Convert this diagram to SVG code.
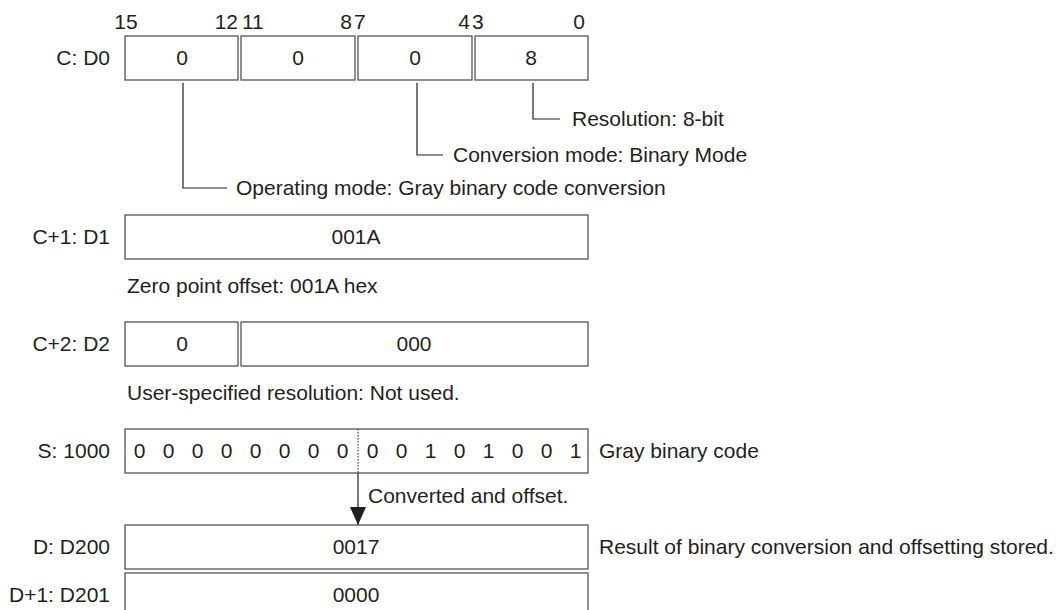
<svg xmlns="http://www.w3.org/2000/svg" width="1061" height="610" viewBox="0 0 1061 610">
<defs>
<style>
text{font-family:"Liberation Sans",Arial,sans-serif;font-size:21px;fill:#231f20}
.m{text-anchor:middle}
.e{text-anchor:end}
.box{fill:#fff;stroke:#555;stroke-width:1.3}
.ln{fill:none;stroke:#231f20;stroke-width:1.2}
</style>
<marker id="ah" viewBox="0 0 18 16" refX="18" refY="8" markerWidth="18" markerHeight="16" markerUnits="userSpaceOnUse" orient="auto">
<path d="M0,0 L18,8 L0,16 Z" fill="#231f20"/>
</marker>
</defs>
<rect width="1061" height="610" fill="#fff"/>

<g id="bitlabels">
<text x="126" y="29" class="m">15</text>
<text x="238" y="29" class="e">12</text>
<text x="242" y="29">11</text>
<text x="352" y="29" class="e">8</text>
<text x="354" y="29">7</text>
<text x="470" y="29" class="e">4</text>
<text x="472" y="29">3</text>
<text x="585" y="29" class="e">0</text>
</g>

<g id="D0">
<text x="110" y="65" class="e">C: D0</text>
<rect class="box" x="125" y="36" width="113" height="44"/>
<rect class="box" x="241" y="36" width="114" height="44"/>
<rect class="box" x="358" y="36" width="114" height="44"/>
<rect class="box" x="475" y="36" width="113" height="44"/>
<text x="182" y="65" class="m">0</text>
<text x="298" y="65" class="m">0</text>
<text x="415" y="65" class="m">0</text>
<text x="531" y="65" class="m">8</text>
</g>

<g id="annotations">
<text x="572" y="126">Resolution: 8-bit</text>
<text x="453" y="162">Conversion mode: Binary Mode</text>
<text x="236" y="195">Operating mode: Gray binary code conversion</text>
</g>

<g id="D1">
<text x="110" y="244" class="e">C+1: D1</text>
<rect class="box" x="125" y="215" width="463" height="44"/>
<text x="356" y="244" class="m">001A</text>
<text x="127" y="293">Zero point offset: 001A hex</text>
</g>

<g id="D2">
<text x="110" y="351" class="e">C+2: D2</text>
<rect class="box" x="125" y="322" width="113" height="44"/>
<rect class="box" x="241" y="322" width="347" height="44"/>
<text x="182" y="351" class="m">0</text>
<text x="414" y="351" class="m">000</text>
<text x="127" y="400">User-specified resolution: Not used.</text>
</g>

<g id="S">
<text x="110" y="458" class="e">S: 1000</text>
<rect class="box" x="125" y="429" width="463" height="44"/>
<line x1="358" y1="429" x2="358" y2="473" stroke="#231f20" stroke-width="1" stroke-dasharray="1.5,1.5"/>
<text x="139.5" y="458" class="m">0</text>
<text x="168.5" y="458" class="m">0</text>
<text x="197.5" y="458" class="m">0</text>
<text x="226.5" y="458" class="m">0</text>
<text x="255.5" y="458" class="m">0</text>
<text x="284.5" y="458" class="m">0</text>
<text x="313.5" y="458" class="m">0</text>
<text x="342.5" y="458" class="m">0</text>
<text x="372.5" y="458" class="m">0</text>
<text x="401.5" y="458" class="m">0</text>
<text x="430.5" y="458" class="m">1</text>
<text x="459.5" y="458" class="m">0</text>
<text x="488.5" y="458" class="m">1</text>
<text x="517.5" y="458" class="m">0</text>
<text x="546.5" y="458" class="m">0</text>
<text x="575.5" y="458" class="m">1</text>
<text x="599" y="458">Gray binary code</text>
</g>

<g id="D200">
<text x="110" y="554" class="e">D: D200</text>
<rect class="box" x="125" y="525" width="463" height="44"/>
<text x="356" y="554" class="m">0017</text>
<text x="599" y="554">Result of binary conversion and offsetting stored.</text>
</g>

<g id="D201">
<text x="110" y="602" class="e">D+1: D201</text>
<rect class="box" x="125" y="573" width="463" height="44"/>
<text x="356" y="602" class="m">0000</text>
</g>

<g id="connectors">
<polyline class="ln" points="533,83 533,119 560,119"/>
<polyline class="ln" points="417,83 417,155 443,155"/>
<polyline class="ln" points="183,83 183,188 227,188"/>
<line class="ln" x1="358" y1="473" x2="358" y2="525" marker-end="url(#ah)"/>
<text x="368" y="503">Converted and offset.</text>
</g>
</svg>
